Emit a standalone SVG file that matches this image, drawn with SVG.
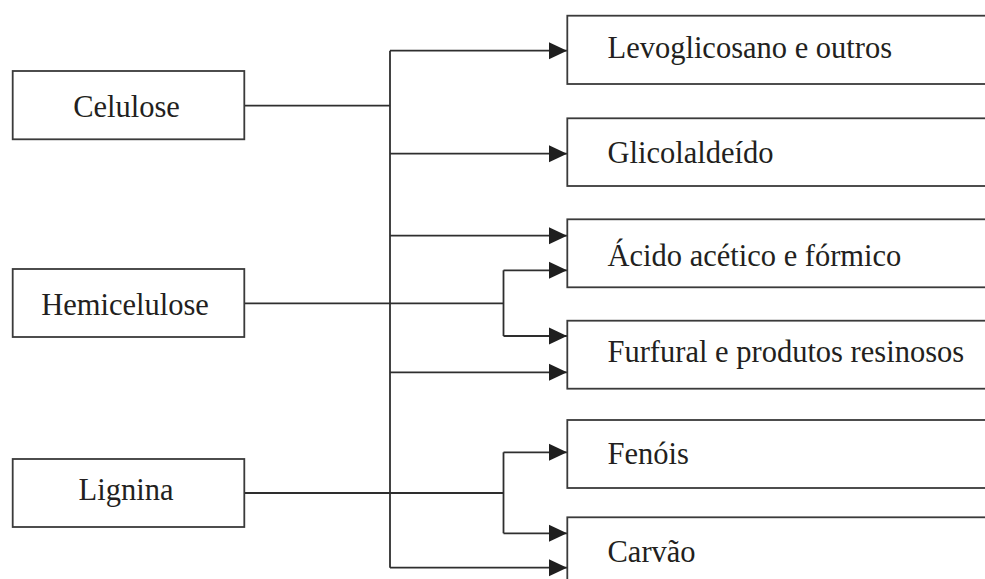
<svg xmlns="http://www.w3.org/2000/svg" width="985" height="579" viewBox="0 0 985 579">
<style>
.box{fill:#fff;stroke:#3a3a3a;stroke-width:1.8}
.ln{fill:none;stroke:#2e2e2e;stroke-width:1.8}
.t{font-family:"Liberation Serif","Times New Roman",serif;font-size:30.5px;fill:#231f20}
.c{text-anchor:middle}
</style>
<defs>
<marker id="ah" markerUnits="userSpaceOnUse" markerWidth="18" markerHeight="18" viewBox="0 0 16 16" refX="16" refY="8" orient="auto">
<path d="M0,0.5 L16,8 L0,15.5 Z" fill="#1f1f1f"/>
</marker>
</defs>
<rect width="985" height="579" fill="#fff"/>
<g id="connectors">
<path class="ln" d="M244.3 105.7 H390"/>
<path class="ln" d="M390 50.7 V567.7"/>
<path class="ln" d="M390 50.7 H567" marker-end="url(#ah)"/>
<path class="ln" d="M390 153.7 H567" marker-end="url(#ah)"/>
<path class="ln" d="M390 235.7 H567" marker-end="url(#ah)"/>
<path class="ln" d="M390 372.3 H567" marker-end="url(#ah)"/>
<path class="ln" d="M390 567.7 H567" marker-end="url(#ah)"/>
<path class="ln" d="M244.3 303.3 H503.5"/>
<path class="ln" d="M503.5 270.3 V336"/>
<path class="ln" d="M503.5 270.3 H567" marker-end="url(#ah)"/>
<path class="ln" d="M503.5 336 H567" marker-end="url(#ah)"/>
<path class="ln" d="M244.3 493 H503.5"/>
<path class="ln" d="M503.5 452.3 V533.3"/>
<path class="ln" d="M503.5 452.3 H567" marker-end="url(#ah)"/>
<path class="ln" d="M503.5 533.3 H567" marker-end="url(#ah)"/>
</g>
<g id="celulose"><rect class="box" x="12.7" y="71" width="231.6" height="68.3"/><text class="t c" x="126.5" y="117">Celulose</text></g>
<g id="hemicelulose"><rect class="box" x="12.7" y="269" width="231.6" height="68"/><text class="t c" x="125" y="315">Hemicelulose</text></g>
<g id="lignina"><rect class="box" x="12.7" y="459" width="231.6" height="68"/><text class="t c" x="126" y="500">Lignina</text></g>
<g id="levoglicosano"><rect class="box" x="567.3" y="15.7" width="440" height="68.3"/><text class="t" x="607.5" y="58.3">Levoglicosano e outros</text></g>
<g id="glicolaldeido"><rect class="box" x="567.3" y="118.3" width="440" height="67.7"/><text class="t" x="607.5" y="163">Glicolaldeído</text></g>
<g id="acido"><rect class="box" x="567.3" y="219.3" width="440" height="68"/><text class="t" x="607.5" y="265.7">Ácido acético e fórmico</text></g>
<g id="furfural"><rect class="box" x="567.3" y="320.7" width="440" height="68"/><text class="t" x="607.5" y="361.7">Furfural e produtos resinosos</text></g>
<g id="fenois"><rect class="box" x="567.3" y="420" width="440" height="68"/><text class="t" x="607.5" y="464">Fenóis</text></g>
<g id="carvao"><rect class="box" x="567.3" y="517.3" width="440" height="80"/><text class="t" x="607.5" y="561.7">Carvão</text></g>
</svg>
